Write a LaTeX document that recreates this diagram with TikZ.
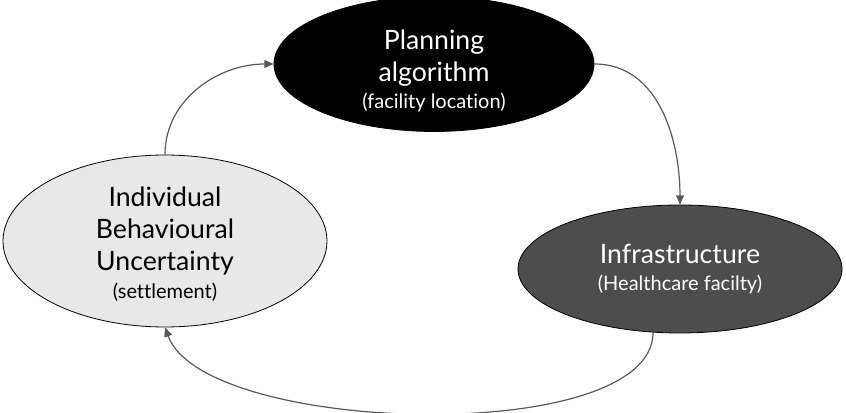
\documentclass[tikz,border=0pt]{standalone}
\usepackage{fontspec}
\setmainfont{Lato}[Ligatures=NoCommon]
\usetikzlibrary{arrows.meta,shapes.geometric}
\definecolor{infragray}{HTML}{4D4D4D}
\definecolor{indivgray}{HTML}{E8E8E8}
\definecolor{arrowgray}{HTML}{595959}
\newcommand{\subline}[1]{{\fontsize{15}{17}\selectfont #1}}
\begin{document}
\begin{tikzpicture}[x=0.75pt,y=-0.75pt]
                \tikzstyle{blob}=[ellipse,draw=black,line width=0.6pt,align=center,font=\fontsize{20}{24}\selectfont,inner sep=0pt]
                \tikzstyle{link}=[draw=arrowgray,line width=0.9pt,-{Triangle[length=7pt,width=6pt]}]
                \useasboundingbox (0,0) rectangle (846,413);
                        \node[blob,fill=black,text=white,minimum width=240pt,minimum height=90pt] (N-plan) at (434,64){\rule{0pt}{25pt}Planning\\algorithm\\[-4pt]\subline{(facility location)}};
                        \node[blob,fill=infragray,text=white,minimum width=243pt,minimum height=96pt] (N-infra) at (680,269){Infrastructure\\[-4pt]\subline{(Healthcare facilty)}};
                        \node[blob,fill=indivgray,text=black,minimum width=243pt,minimum height=95pt] (N-indiv) at (165,241){\rule{0pt}{20pt}Individual\\Behavioural\\Uncertainty\\[-3pt]\subline{(settlement)}};
            
                    \foreach \from/\to/\o/\i/\l in {indiv.north/plan.west/90/180/1, plan.east/infra.north/0/90/1, infra.247/indiv.south/-90/-70/0.6}
                        \draw[link] (N-\from) to[out=\o,in=\i,looseness=\l] (N-\to);
            \end{tikzpicture}
\end{document}
